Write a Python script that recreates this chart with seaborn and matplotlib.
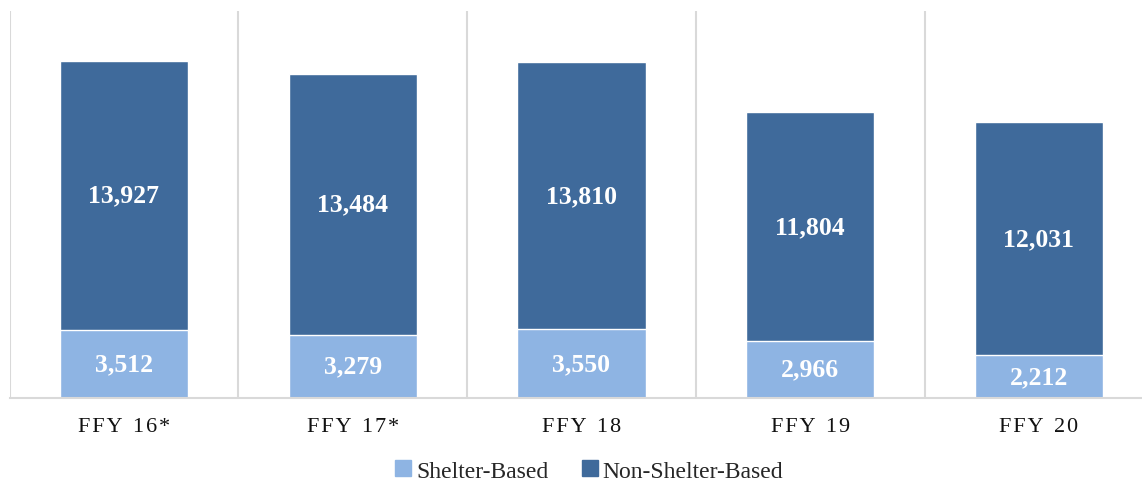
import pandas as pd
import numpy as np
import matplotlib.pyplot as plt
import seaborn as sns
from matplotlib.lines import Line2D

hs = "\u200a"
years = [hs.join("FFY") + "  " + hs.join("16*"), hs.join("FFY") + "  " + hs.join("17*"),
         hs.join("FFY") + "  " + hs.join("18"), hs.join("FFY") + "  " + hs.join("19"),
         hs.join("FFY") + "  " + hs.join("20")]
shelter = [3512, 3279, 3550, 2966, 2212]
non_shelter = [13927, 13484, 13810, 11804, 12031]

light = "#8EB4E3"
dark = "#3F6A9B"
grid = "#D9D9D9"

sns.set_style("white")
plt.rcParams["font.family"] = ["Liberation Serif", "DejaVu Serif"]

df = pd.DataFrame({"year": years, "shelter": shelter, "non_shelter": non_shelter})
df["total"] = df["shelter"] + df["non_shelter"]

fig = plt.figure(figsize=(11.42, 4.85), dpi=100)
ax = fig.add_axes([9.6 / 1142, 86 / 485, 1 - 9.6 / 1142, (399 - 12) / 485])

sns.barplot(data=df, x="year", y="total", color=dark, width=0.56, saturation=1, ax=ax)
sns.barplot(data=df, x="year", y="shelter", color=light, width=0.56, saturation=1, ax=ax)

for i, row in df.iterrows():
    ax.text(i, row["shelter"] / 2, f"{row['shelter']:,}", ha="center", va="center",
            color="white", fontsize=18.5, fontweight="bold")
    ax.text(i, row["shelter"] + row["non_shelter"] / 2, f"{row['non_shelter']:,}", ha="center",
            va="center", color="white", fontsize=18.5, fontweight="bold")

ax.set_xlim(-0.5, -0.5 + (1142 - 9.6) / 228.75)
ax.set_ylim(0, 20000)
for b in np.arange(-0.5, 4.5, 1.0):
    ax.axvline(b, color=grid, lw=1.5, zorder=0)

for s in ["top", "right", "left"]:
    ax.spines[s].set_visible(False)
ax.spines["bottom"].set_color(grid)
ax.spines["bottom"].set_linewidth(1.5)
ax.set_yticks([])
ax.set_xlabel("")
ax.set_ylabel("")
ax.tick_params(axis="x", length=0, pad=14, labelsize=16, colors="#111111")

handles = [Line2D([], [], marker="s", ls="", color=light, markersize=11),
           Line2D([], [], marker="s", ls="", color=dark, markersize=11)]
fig.legend(handles, ["Shelter-Based", "Non-Shelter-Based"], loc="center",
           bbox_to_anchor=(589 / 1142, 1 - 472 / 485), ncol=2, frameon=False,
           fontsize=17, handletextpad=0.2, columnspacing=1.4, handlelength=0.7)

fig.savefig("out.png", dpi=100)
